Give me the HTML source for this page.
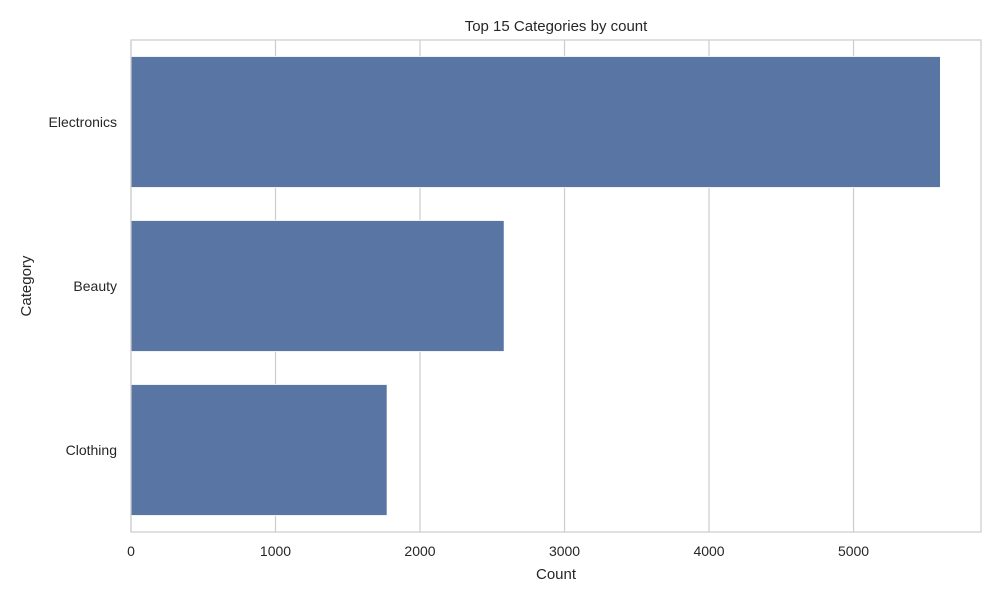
<!DOCTYPE html>
<html><head><meta charset="utf-8"><style>
body{margin:0;background:#fff;font-family:"Liberation Sans","DejaVu Sans",sans-serif;}
</style></head><body>
<svg id="chart" width="1000" height="600" xmlns="http://www.w3.org/2000/svg">
<text x="556" y="31" text-anchor="middle" font-size="15" fill="#262626">Top 15 Categories by count</text>
<g id="grid"></g>
<g id="bars"></g>
<g id="axes"></g>
<text x="556" y="579" text-anchor="middle" font-size="15" fill="#262626">Count</text>
<text x="31" y="286" text-anchor="middle" font-size="15" fill="#262626" transform="rotate(-90 31 286)">Category</text>
</svg>
<script>
const categories = ["Electronics", "Beauty", "Clothing"];
const counts = [5602, 2583, 1773];
const xTicks = [0, 1000, 2000, 3000, 4000, 5000];

const L = 131, R = 981, T = 40, B = 532;
const xMax = Math.max(...counts) * 1.05;
const xs = v => L + (v / xMax) * (R - L);
const band = (B - T) / categories.length;
const ys = i => T + i * band;
const NS = "http://www.w3.org/2000/svg";
function mk(tag, attrs, parent, text) {
  const e = document.createElementNS(NS, tag);
  for (const k in attrs) e.setAttribute(k, attrs[k]);
  if (text !== undefined) e.textContent = text;
  parent.appendChild(e);
  return e;
}
const grid = document.getElementById('grid');
const bars = document.getElementById('bars');
const axes = document.getElementById('axes');
xTicks.forEach(t => {
  const l = mk('line', {x1: xs(t), x2: xs(t), y1: T, y2: B, stroke: '#cccccc', 'stroke-width': 1.2}, grid);
  
  
  const tx = mk('text', {x: xs(t), y: B + 24, 'text-anchor': 'middle', 'font-size': 14, fill: '#262626'}, axes, String(t));
  
  
});
categories.forEach((c, i) => {
  const y0 = ys(i) + band * 0.1;
  const r = mk('rect', {x: xs(0), y: y0, width: xs(counts[i]) - xs(0), height: band * 0.8, fill: '#5975a4', stroke: '#ffffff', 'stroke-width': 1}, bars);
  
  
  const tx = mk('text', {x: L - 14, y: ys(i) + band / 2 + 5, 'text-anchor': 'end', 'font-size': 14, fill: '#262626'}, axes, c);
  
  
});
const frame = mk('rect', {x: L, y: T, width: R - L, height: B - T, fill: 'none', stroke: '#cccccc', 'stroke-width': 1.2}, axes);


</script>
</body></html>
